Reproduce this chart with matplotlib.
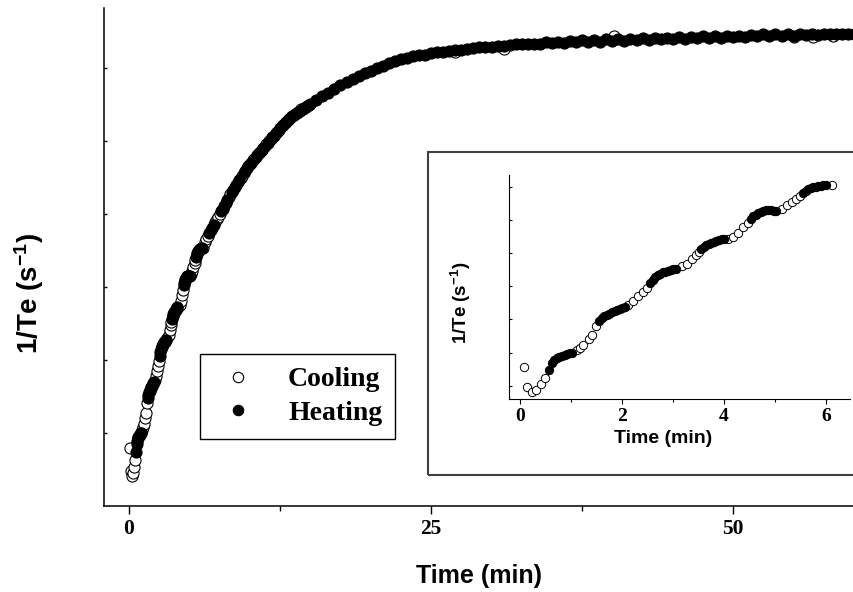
import matplotlib
matplotlib.use('Agg')
import matplotlib.pyplot as plt
from matplotlib.lines import Line2D
from matplotlib.patches import Rectangle

plt.rcParams['mathtext.fontset'] = 'custom'
plt.rcParams['mathtext.rm'] = 'Liberation Sans:bold'
plt.rcParams['mathtext.default'] = 'rm'

# First 6 minutes (also shown in the inset)
cool_t_early = [0.065, 0.14, 0.23, 0.31, 0.405, 0.49,
                1.11, 1.18, 1.24, 1.34, 1.405, 1.49,
                2.12, 2.22, 2.32, 2.41, 2.48,
                3.17, 3.27, 3.37, 3.45, 3.50,
                4.08, 4.18, 4.28, 4.38, 4.46,
                5.13, 5.23, 5.33, 5.42, 5.49, 6.12]
cool_v_early = [0.79, 0.475, 0.40, 0.44, 0.53, 0.62,
                1.035, 1.07, 1.12, 1.20, 1.27, 1.40,
                1.72, 1.78, 1.85, 1.91, 1.98,
                2.30, 2.34, 2.41, 2.47, 2.52,
                2.72, 2.75, 2.81, 2.89, 2.96,
                3.17, 3.22, 3.27, 3.32, 3.36, 3.53]

heat_t_early = [0.57, 0.62, 0.67, 0.72, 0.77, 0.82, 0.87, 0.92, 0.97, 1.02,
                1.55, 1.60, 1.65, 1.70, 1.75, 1.80, 1.85, 1.90, 1.95, 2.00, 2.05,
                2.55, 2.60, 2.65, 2.70, 2.75, 2.80, 2.85, 2.90, 2.95, 3.00, 3.05,
                3.55, 3.60, 3.65, 3.70, 3.75, 3.80, 3.85, 3.90, 3.95, 4.00,
                4.52, 4.57, 4.62, 4.67, 4.72, 4.77, 4.82, 4.87, 4.92, 4.97, 5.02,
                5.55, 5.60, 5.65, 5.70, 5.75, 5.80, 5.85, 5.90, 5.95, 6.00]
heat_v_early = [0.74, 0.84, 0.89, 0.92, 0.94, 0.955, 0.97, 0.985, 0.995, 1.0,
                1.48, 1.52, 1.55, 1.57, 1.59, 1.61, 1.63, 1.645, 1.66, 1.675, 1.69,
                2.05, 2.10, 2.14, 2.17, 2.19, 2.21, 2.22, 2.235, 2.245, 2.255, 2.265,
                2.56, 2.595, 2.62, 2.64, 2.655, 2.67, 2.685, 2.70, 2.71, 2.72,
                3.02, 3.055, 3.08, 3.10, 3.12, 3.135, 3.145, 3.15, 3.145, 3.14, 3.14,
                3.41, 3.445, 3.465, 3.48, 3.495, 3.505, 3.515, 3.52, 3.525, 3.53]

# Rest of the run (main plot only)
cool_t_late = [6.25, 6.375, 6.5,
               7.125, 7.25, 7.375, 7.5,
               8.25, 8.375,
               9.25, 9.375,
               10.25, 10.375,
               11.25, 11.375,
               12.25, 12.375,
               13.25, 13.375,
               14.25, 14.375,
               27.0, 31.0, 40.1, 55.0, 56.6, 58.3]
cool_v_late = [3.61, 3.65, 3.69,
               3.89, 3.93, 3.96, 4.00,
               4.23, 4.27,
               4.49, 4.52,
               4.73, 4.75,
               4.93, 4.95,
               5.12, 5.15,
               5.30, 5.32,
               5.43, 5.44,
               6.21, 6.26, 6.43, 6.42, 6.42, 6.43]

heat_t_late = [6.625, 6.75, 6.875, 7.0,
               7.625, 7.75, 7.875, 8.0, 8.125,
               8.5, 8.625, 8.75, 8.875, 9.0, 9.125,
               9.5, 9.625, 9.75, 9.875, 10.0, 10.125,
               10.5, 10.625, 10.75, 10.875, 11.0, 11.125,
               11.5, 11.625, 11.75, 11.875, 12.0, 12.125,
               12.5, 12.625, 12.75, 12.875, 13.0, 13.125,
               13.5, 13.625, 13.75, 13.875, 14.0, 14.125,
               14.5, 14.625, 14.75, 14.875, 15.0,
               15.5, 16.0, 16.5, 17.0, 17.5, 18.0, 18.5, 19.0, 19.5, 20.0,
               20.5, 21.0, 21.5, 22.0, 22.5, 23.0, 23.5, 24.0, 24.5, 25.0,
               25.5, 26.0, 26.5, 27.0, 27.5, 28.0, 28.5, 29.0, 29.5, 30.0,
               30.5, 31.0, 31.5, 32.0, 32.5, 33.0, 33.5, 34.0, 34.5, 35.0,
               35.5, 36.0, 36.5, 37.0, 37.5, 38.0, 38.5, 39.0, 39.5, 40.0,
               40.5, 41.0, 41.5, 42.0, 42.5, 43.0, 43.5, 44.0, 44.5, 45.0,
               45.5, 46.0, 46.5, 47.0, 47.5, 48.0, 48.5, 49.0, 49.5, 50.0,
               50.5, 51.0, 51.5, 52.0, 52.5, 53.0, 53.5, 54.0, 54.5, 55.0,
               55.5, 56.0, 56.5, 57.0, 57.5, 58.0, 58.5, 59.0, 59.5, 60.0, 60.5]
heat_v_late = [3.73, 3.77, 3.81, 3.85,
               4.04, 4.07, 4.11, 4.15, 4.19,
               4.30, 4.33, 4.36, 4.40, 4.43, 4.46,
               4.56, 4.59, 4.62, 4.65, 4.68, 4.70,
               4.78, 4.80, 4.83, 4.85, 4.88, 4.90,
               4.97, 5.00, 5.02, 5.05, 5.07, 5.10,
               5.17, 5.20, 5.22, 5.24, 5.26, 5.28,
               5.34, 5.35, 5.37, 5.38, 5.40, 5.41,
               5.45, 5.46, 5.47, 5.49, 5.50,
               5.56, 5.61, 5.66, 5.71, 5.76, 5.80, 5.85, 5.89, 5.93, 5.96,
               6.00, 6.03, 6.07, 6.09, 6.12, 6.14, 6.16, 6.17, 6.18, 6.20,
               6.21, 6.22, 6.23, 6.24, 6.25, 6.26, 6.27, 6.28, 6.29, 6.29,
               6.30, 6.30, 6.31, 6.32, 6.33, 6.32, 6.33, 6.33, 6.35, 6.34,
               6.35, 6.34, 6.37, 6.35, 6.38, 6.36, 6.38, 6.36, 6.39, 6.37,
               6.39, 6.37, 6.40, 6.38, 6.41, 6.38, 6.41, 6.39, 6.41, 6.39,
               6.42, 6.40, 6.42, 6.41, 6.43, 6.41, 6.43, 6.41, 6.44, 6.42,
               6.44, 6.42, 6.45, 6.43, 6.46, 6.43, 6.46, 6.44, 6.46, 6.44,
               6.46, 6.45, 6.47, 6.45, 6.47, 6.46, 6.47, 6.46, 6.47, 6.46, 6.47]

serif = {'family': 'Liberation Serif', 'weight': 'bold'}
sans = {'family': 'Liberation Sans', 'weight': 'bold'}

fig = plt.figure(figsize=(8.54, 5.92), dpi=100)

# main axes
ax = fig.add_axes([104 / 854, 86.5 / 592, 750 / 854, 497.5 / 592])
ax.plot(cool_t_early + cool_t_late, cool_v_early + cool_v_late, 'o', ls='none',
        mfc='white', mec='black', mew=0.8, ms=8)
ax.plot(heat_t_early + heat_t_late, heat_v_early + heat_v_late, 'o', ls='none',
        mfc='black', mec='black', mew=0.8, ms=8)
ax.set_xlim(-2.07, 60.0)
ax.set_ylim(0, 6.82)
ax.spines['top'].set_visible(False)
ax.spines['right'].set_visible(False)
for s in ['left', 'bottom']:
    ax.spines[s].set_linewidth(1.1)
ax.set_xticks([0, 25, 50])
ax.set_xticks([12.5, 37.5], minor=True)
ax.set_xticklabels(['0', '25', '50'], fontdict=serif, fontsize=15.5)
ax.tick_params(axis='x', which='major', direction='out', length=6, width=1, pad=4)
ax.tick_params(axis='x', which='minor', direction='out', length=3.5, width=1)
ax.set_yticks([1, 2, 3, 4, 5, 6])
ax.set_yticklabels([])
ax.tick_params(axis='y', which='major', direction='in', length=2.5, width=1)
ax.set_xlabel('Time (min)', fontdict=sans, fontsize=18)
ax.xaxis.set_label_coords(0.5, -0.118)
ax.set_ylabel('1/Te (s$^{-1}$)', fontdict=sans, fontsize=20)
ax.yaxis.set_label_coords(-0.077, 0.427)

leg_handles = [Line2D([], [], ls='none', marker='o', mfc='white', mec='black', mew=0.8, ms=7.5),
               Line2D([], [], ls='none', marker='o', mfc='black', mec='black', mew=0.8, ms=7.5)]
leg = ax.legend(leg_handles, ['Cooling', 'Heating'], loc='center',
                bbox_to_anchor=(297.5 / 854, 1 - 396.5 / 592), bbox_transform=fig.transFigure,
                prop={'family': 'Liberation Serif', 'weight': 'bold', 'size': 20},
                frameon=True, fancybox=False, edgecolor='black', framealpha=1,
                borderpad=0.45, handlelength=1.85, handletextpad=0.86, labelspacing=0.3,
                numpoints=1)
leg.get_frame().set_linewidth(1.0)

# inset frame
fig.patches.append(Rectangle((428 / 854, (592 - 475) / 592), 0.6, (475 - 152) / 592,
                             transform=fig.transFigure, fill=False,
                             edgecolor='#404040', lw=1.5))

# inset axes
ins = fig.add_axes([509 / 854, (592 - 399) / 592, 341 / 854, 224 / 592])
ins.plot(cool_t_early, cool_v_early, 'o', ls='none', mfc='white', mec='black', mew=0.7, ms=6)
ins.plot(heat_t_early, heat_v_early, 'o', ls='none', mfc='black', mec='black', mew=0.7, ms=6)
ins.set_xlim(-0.22, 6.47)
ins.set_ylim(0.30, 3.68)
ins.spines['top'].set_visible(False)
ins.spines['right'].set_visible(False)
ins.set_xticks([0, 2, 4, 6])
ins.set_xticks([1, 3, 5], minor=True)
ins.set_xticklabels(['0', '2', '4', '6'], fontdict=serif, fontsize=14)
ins.tick_params(axis='x', which='major', direction='out', length=3.5, width=0.8, pad=3)
ins.tick_params(axis='x', which='minor', direction='out', length=2.5, width=0.8)
ins.set_yticks([0.5, 1.0, 1.5, 2.0, 2.5, 3.0, 3.5])
ins.set_yticklabels([])
ins.tick_params(axis='y', direction='in', length=2, width=0.8)
ins.set_xlabel('Time (min)', fontdict=sans, fontsize=14)
ins.xaxis.set_label_coords(0.452, -0.138)
ins.set_ylabel('1/Te (s$^{-1}$)', fontdict=sans, fontsize=13.5)
ins.yaxis.set_label_coords(-0.106, 0.43)

fig.savefig('out.png', dpi=100)
